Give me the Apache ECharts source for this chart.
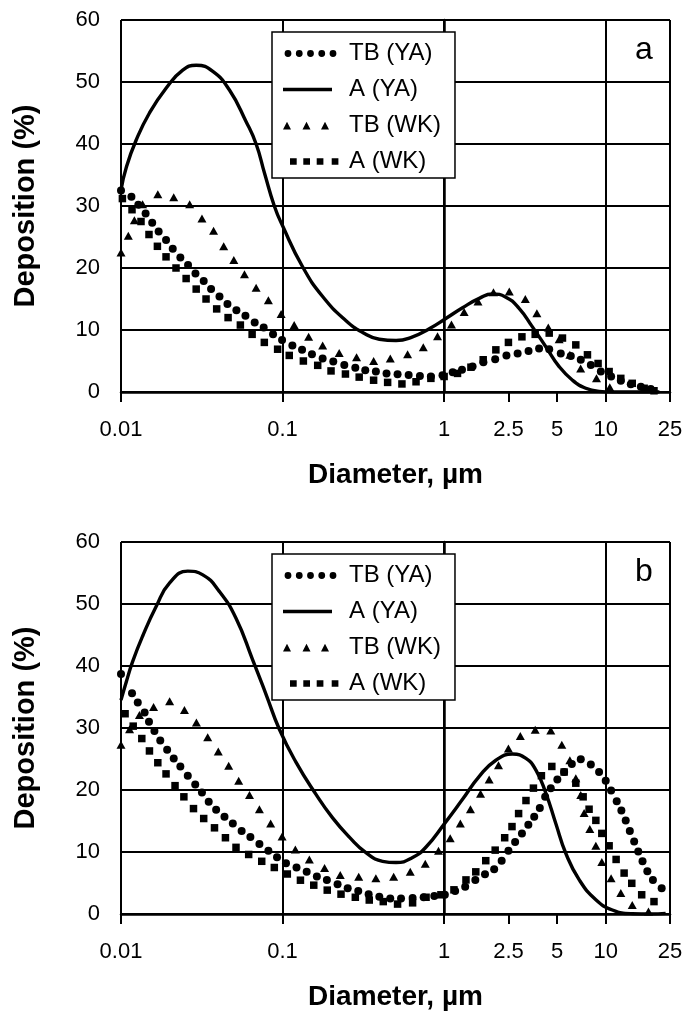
<!DOCTYPE html>
<html>
<head>
<meta charset="utf-8">
<script src="https://cdn.jsdelivr.net/npm/echarts@6/dist/echarts.min.js"></script>
<style>
html, body { margin: 0; padding: 0; background: #fff; }
#chart { width: 689px; height: 1017px; }
</style>
</head>
<body>
<div id="chart"></div>
<script>
// diameter axis ticks (µm) and their labels
var xTickValues = [0.01, 0.1, 1, 2.5, 5, 10, 25];
var xTickLabels = ['0.01', '0.1', '1', '2.5', '5', '10', '25'];
var seriesNames = ['TB (YA)', 'A (YA)', 'TB (WK)', 'A (WK)'];
var panelLetters = ['a', 'b'];

// panel a : [diameter µm, deposition %]
var aTbYA = [[0.01,32.5],[0.0116,31.5],[0.0128,30.2],[0.0142,28.8],[0.0156,27.3],[0.0171,25.9],[0.019,24.5],[0.0209,23.1],[0.0233,21.7],[0.026,20.5],[0.0289,19.1],[0.0325,17.9],[0.0361,16.6],[0.0407,15.4],[0.0456,14.2],[0.0518,13.2],[0.0589,12.3],[0.0672,11.2],[0.0764,10.4],[0.0873,9.3],[0.0993,8.4],[0.115,7.5],[0.132,6.8],[0.152,6.1],[0.177,5.4],[0.206,4.9],[0.241,4.35],[0.282,3.9],[0.325,3.5],[0.378,3.3],[0.44,3.0],[0.515,2.85],[0.603,2.75],[0.708,2.6],[0.828,2.5],[0.977,2.7],[1.13,3.2],[1.29,3.6],[1.5,4.1],[1.75,4.8],[2.07,5.3],[2.43,5.9],[2.85,6.2],[3.33,6.6],[3.87,7.0],[4.47,6.9],[5.27,6.2],[6.08,5.8],[7.01,5.2],[8.09,4.35],[9.33,3.3],[10.8,2.5],[12.4,1.8],[14.3,1.25],[16.5,0.85],[19.0,0.5]];
var aAYA = [[0.01,32.6],[0.0108,36.3],[0.0124,40.6],[0.015,45.0],[0.019,49.0],[0.0241,51.9],[0.0292,52.7],[0.037,51.7],[0.0469,48.7],[0.0595,43.6],[0.0686,40.0],[0.0775,35.2],[0.0889,30.0],[0.1,26.8],[0.133,20.2],[0.177,15.4],[0.247,11.5],[0.313,9.6],[0.397,8.5],[0.504,8.3],[0.638,8.9],[0.809,10.2],[1.03,11.9],[1.3,13.6],[1.65,15.1],[1.99,15.8],[2.41,15.3],[2.91,13.5],[3.52,10.5],[4.26,7.3],[5.15,4.1],[6.23,1.9],[7.53,0.6],[9.1,0.1],[11,0],[21.5,0]];
var aTbWK = [[0.01,22.5],[0.0111,25.2],[0.0121,27.7],[0.0136,30.3],[0.0169,31.9],[0.0212,31.4],[0.0266,30.3],[0.0317,28.0],[0.0374,26.0],[0.0432,23.5],[0.0499,21.3],[0.0581,19.0],[0.0686,16.8],[0.0817,14.8],[0.098,12.6],[0.118,10.8],[0.145,8.9],[0.177,7.5],[0.224,6.3],[0.287,5.6],[0.366,5.0],[0.464,5.4],[0.594,6.1],[0.743,7.2],[0.91,9.0],[1.11,10.9],[1.33,12.9],[1.62,14.6],[2.02,16.1],[2.53,16.2],[3.18,15.0],[3.75,12.7],[4.41,10.4],[5.15,8.5],[6.0,6.0],[7.0,3.8],[8.77,2.2],[10.6,0.75]];
var aAWK = [[0.0102,31.2],[0.0117,29.4],[0.0133,27.5],[0.0149,25.4],[0.0168,23.5],[0.019,21.8],[0.0219,20.0],[0.0253,18.3],[0.0292,16.6],[0.0336,15.0],[0.0391,13.4],[0.046,12.0],[0.0548,10.8],[0.0648,9.3],[0.0771,8.0],[0.0932,6.9],[0.11,5.9],[0.1345,5.0],[0.165,4.3],[0.1995,3.4],[0.245,2.9],[0.298,2.4],[0.366,1.9],[0.447,1.55],[0.548,1.3],[0.67,1.65],[0.828,2.2],[1.0,2.5],[1.21,3.0],[1.465,4.0],[1.745,5.2],[2.09,6.8],[2.5,8.0],[3.03,8.9],[3.66,9.3],[4.47,9.5],[5.4,8.7],[6.53,7.6],[7.71,6.0],[8.97,4.6],[10.5,3.3],[12.4,2.2],[14.6,1.4],[17.3,0.6],[19.9,0.2]];

// panel b
var bTbYA = [[0.01,38.7],[0.0117,35.6],[0.0127,34.1],[0.014,32.5],[0.0149,31.0],[0.0161,29.5],[0.0175,28.0],[0.0193,26.5],[0.0212,25.1],[0.0233,23.8],[0.0259,22.3],[0.0288,20.9],[0.0317,19.6],[0.0349,18.1],[0.0388,16.8],[0.0437,15.7],[0.0492,14.6],[0.0558,13.4],[0.0632,12.4],[0.0719,11.3],[0.0817,10.2],[0.0924,9.15],[0.105,8.2],[0.122,7.5],[0.141,6.8],[0.163,6.05],[0.188,5.5],[0.219,4.8],[0.253,4.15],[0.294,3.7],[0.341,3.2],[0.397,2.8],[0.464,2.5],[0.541,2.5],[0.638,2.6],[0.747,2.7],[0.869,2.9],[1.01,3.1],[1.17,3.7],[1.35,4.4],[1.56,5.5],[1.79,6.4],[2.04,7.2],[2.27,8.6],[2.5,10.2],[2.75,11.6],[3.03,13.0],[3.32,14.4],[3.61,15.7],[3.91,17.1],[4.22,18.9],[4.57,20.3],[5.02,21.7],[5.53,22.9],[6.17,24.2],[7.01,24.95],[8.09,24.1],[9.1,22.9],[10.0,21.5],[10.8,19.9],[11.7,18.2],[12.5,16.7],[13.3,15.1],[14.1,13.4],[15.0,11.7],[15.9,10.1],[16.9,8.5],[18.1,6.9],[19.6,5.5],[22.2,4.15]];
var bAYA = [[0.01,34.5],[0.0108,37.5],[0.0118,40.7],[0.0136,44.8],[0.0165,49.6],[0.02,53.4],[0.0259,55.3],[0.0321,54.7],[0.0407,52.0],[0.0515,47.7],[0.0653,41.0],[0.0791,35.4],[0.0955,29.8],[0.121,24.5],[0.161,19.3],[0.204,15.5],[0.259,12.4],[0.328,9.9],[0.416,8.5],[0.504,8.3],[0.638,9.1],[0.773,10.8],[1.0,14.5],[1.3,18.5],[1.65,22.2],[2.09,24.8],[2.65,25.8],[3.21,25.1],[3.7,23.2],[4.26,19.5],[4.91,14.6],[5.66,9.8],[6.86,5.5],[8.69,2.3],[11.0,0.65],[14.6,0.05],[19,0],[23.5,0.1]];
var bTbWK = [[0.01,27.3],[0.0113,29.8],[0.013,32.1],[0.0159,33.4],[0.02,34.3],[0.0247,32.9],[0.0293,30.9],[0.0344,28.5],[0.04,26.2],[0.0464,23.9],[0.0535,21.5],[0.0624,19.2],[0.0719,16.9],[0.0844,14.6],[0.0993,12.5],[0.12,10.4],[0.1465,8.8],[0.182,7.4],[0.2275,6.3],[0.296,6.0],[0.378,5.75],[0.487,6.0],[0.617,6.8],[0.764,8.1],[0.923,10.2],[1.09,12.2],[1.26,14.6],[1.455,16.9],[1.68,19.4],[1.9,21.7],[2.17,24.0],[2.5,26.7],[2.96,28.7],[3.66,29.7],[4.57,29.6],[5.35,27.3],[6.0,24.8],[6.53,21.9],[7.01,19.2],[7.35,16.3],[7.97,13.7],[8.69,11.0],[9.46,8.4],[10.8,5.75],[12.4,3.4],[14.6,1.45],[18.4,0.4]];
var bAWK = [[0.0106,32.3],[0.0119,30.3],[0.01345,28.3],[0.015,26.3],[0.0169,24.4],[0.019,22.6],[0.0216,20.7],[0.0245,18.9],[0.0281,17.0],[0.0325,15.4],[0.0379,13.9],[0.0443,12.3],[0.0515,10.75],[0.0617,9.6],[0.0743,8.5],[0.0889,7.5],[0.107,6.45],[0.129,5.45],[0.156,4.65],[0.189,3.85],[0.23,3.2],[0.282,2.7],[0.344,2.25],[0.42,2.0],[0.515,1.6],[0.638,1.8],[0.773,2.7],[0.955,3.1],[1.15,3.9],[1.365,5.5],[1.57,6.8],[1.81,8.6],[2.07,10.3],[2.37,12.3],[2.63,14.1],[2.89,16.2],[3.21,18.3],[3.57,20.3],[4.0,22.3],[4.64,23.8],[5.53,22.9],[6.53,21.1],[7.25,18.9],[7.89,16.9],[8.69,15.1],[9.46,13.0],[10.5,11.0],[11.6,8.8],[13.0,6.6],[14.5,4.95],[16.7,3.1],[19.9,2.0]];

var panelData = [[aTbYA, aAYA, aTbWK, aAWK], [bTbYA, bAYA, bTbWK, bAWK]];

var FONT = "'Liberation Sans', Arial, Helvetica, sans-serif";
var LOGMIN = Math.log10(xTickValues[0]);
var LOGMAX = Math.log10(xTickValues[xTickValues.length - 1]);
var tickLogs = xTickValues.map(function (v) { return Math.log10(v); });

function toLog(arr) {
	return arr.map(function (p) { return [Math.log10(p[0]), p[1]]; });
}
function xLabel(v) {
	for (var i = 0; i < tickLogs.length; i++) {
		if (Math.abs(tickLogs[i] - v) < 1e-6) return xTickLabels[i];
	}
	return '';
}

// legend samples, drawn in a 56x9 box (the leading moves fix the box)
function dots() {
	var p = 'M0 0M56 9';
	[5, 16.25, 27.5, 38.75, 50].forEach(function (c) {
		p += 'M' + (c - 3.4) + ' 4.5a3.4 3.4 0 1 0 6.8 0a3.4 3.4 0 1 0 -6.8 0Z';
	});
	return 'path://' + p;
}
function tris() {
	var p = 'M0 0M56 9';
	[4, 23.5, 42].forEach(function (c) {
		p += 'M' + c + ' 0.8L' + (c + 4) + ' 8.6L' + (c - 4) + ' 8.6Z';
	});
	return 'path://' + p;
}
function squares() {
	var p = 'M0 0M56 9';
	[7, 20.3, 33.7, 48.7].forEach(function (c) {
		p += 'M' + c + ' 1.15h6.7v6.7h-6.7Z';
	});
	return 'path://' + p;
}
var legendIcons = [dots(), 'path://M0 0M56 9M0 2.8H49V6.2H0Z', tris(), squares()];

var panelTops = [20, 542];
var grids = [], xAxes = [], yAxes = [], series = [], legends = [], titles = [];

panelTops.forEach(function (top, i) {
	grids.push({ left: 121, top: top, width: 549, height: 372, outerBoundsMode: 'none', containLabel: false });

	xAxes.push({
		type: 'value', gridIndex: i, min: LOGMIN, max: LOGMAX,
		name: 'Diameter, µm', nameLocation: 'middle', nameGap: 69,
		nameTextStyle: { fontSize: 28, fontWeight: 'bold', color: '#000', fontFamily: FONT },
		axisLine: { show: true, onZero: false, lineStyle: { color: '#000', width: 2.5 } },
		axisTick: { show: true, length: 10, customValues: tickLogs, lineStyle: { color: '#000', width: 2 } },
		axisLabel: { customValues: tickLogs, formatter: xLabel, margin: 27, fontSize: 22, color: '#000', fontFamily: FONT },
		splitLine: { show: false }
	});
	// decade grid lines
	xAxes.push({
		type: 'value', gridIndex: i, min: LOGMIN, max: LOGMAX, interval: 1,
		axisLine: { show: false }, axisTick: { show: false }, axisLabel: { show: false },
		splitLine: { show: true, lineStyle: { color: '#000', width: 2 } }
	});
	yAxes.push({
		type: 'value', gridIndex: i, min: 0, max: 60, interval: 10,
		name: 'Deposition (%)', nameLocation: 'middle', nameGap: 81,
		nameTextStyle: { fontSize: 29, fontWeight: 'bold', color: '#000', fontFamily: FONT },
		axisLine: { show: true, lineStyle: { color: '#000', width: 2.5 } },
		axisTick: { show: true, length: 11, lineStyle: { color: '#000', width: 2 } },
		axisLabel: { margin: 21, fontSize: 22, color: '#000', fontFamily: FONT },
		splitLine: { show: true, lineStyle: { color: '#000', width: 2 } }
	});

	var d = panelData[i];
	var base = { xAxisIndex: 2 * i, yAxisIndex: i, silent: true, animation: false };
	series.push(Object.assign({}, base, {
		name: seriesNames[0], type: 'scatter', data: toLog(d[0]),
		symbol: 'circle', symbolSize: 8, itemStyle: { color: '#000', opacity: 1 }
	}));
	series.push(Object.assign({}, base, {
		name: seriesNames[1], type: 'line', data: toLog(d[1]),
		showSymbol: false, symbol: 'none', smooth: 0.5, z: 3,
		lineStyle: { color: '#000', width: 3.4 }, itemStyle: { color: '#000' }
	}));
	series.push(Object.assign({}, base, {
		name: seriesNames[2], type: 'scatter', data: toLog(d[2]),
		symbol: 'triangle', symbolSize: [9, 8], itemStyle: { color: '#000', opacity: 1 }
	}));
	series.push(Object.assign({}, base, {
		name: seriesNames[3], type: 'scatter', data: toLog(d[3]),
		symbol: 'rect', symbolSize: 7.5, itemStyle: { color: '#000', opacity: 1 }
	}));

	legends.push({
		orient: 'vertical', left: 272, top: top + 12, align: 'left',
		selectedMode: false, backgroundColor: '#fff',
		borderColor: '#000', borderWidth: 1.5, borderRadius: 0,
		padding: [8.5, 14, 3.5, 11], itemGap: 10, itemWidth: 56, itemHeight: 9,
		itemStyle: { color: '#000', borderWidth: 0 },
		textStyle: { fontSize: 24, color: '#000', fontFamily: FONT, lineHeight: 26, padding: [0, 0, 0, 5] },
		data: seriesNames.map(function (n, k) { return { name: n, icon: legendIcons[k] }; }),
		z: 10
	});
	titles.push({
		text: panelLetters[i], left: 635, top: top + 14, padding: 0,
		textStyle: { fontSize: 32, fontWeight: 'normal', color: '#000', fontFamily: FONT }
	});
});

var myChart = echarts.init(document.getElementById('chart'), null, { renderer: 'canvas' });
myChart.setOption({
	animation: false,
	backgroundColor: '#fff',
	title: titles,
	legend: legends,
	grid: grids,
	xAxis: xAxes,
	yAxis: yAxes,
	series: series
});
</script>
</body>
</html>
